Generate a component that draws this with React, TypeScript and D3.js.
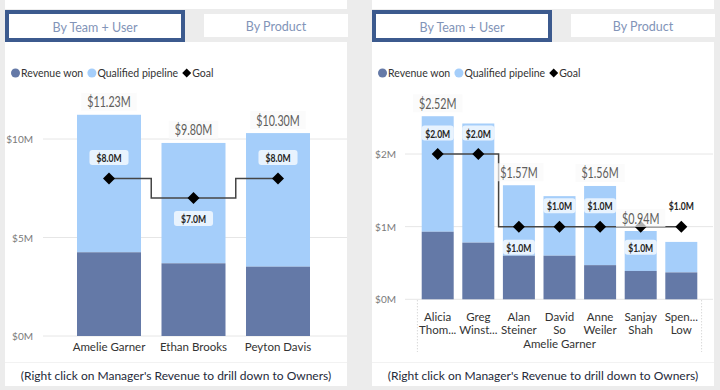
import React from "react";
import * as d3 from "d3";

// ---- Data ----
const managers = ["Amelie Garner", "Ethan Brooks", "Peyton Davis"];
const managerRevenueWon = [4.25, 3.69, 3.52];
const managerPipeline = [6.98, 6.11, 6.78];
const managerGoal = [8.0, 7.0, 8.0];
const managerTicks = [0, 5, 10];

const owners = ["Alicia Thom...", "Greg Winst...", "Alan Steiner", "David So", "Anne Weiler", "Sanjay Shah", "Spen... Low"];
const ownerGroup = "Amelie Garner";
const ownerRevenueWon = [0.93, 0.78, 0.6, 0.6, 0.47, 0.39, 0.37];
const ownerPipeline = [1.59, 1.64, 0.97, 0.82, 1.09, 0.55, 0.42];
const ownerGoal = [2.0, 2.0, 1.0, 1.0, 1.0, 1.0, 1.0];
const ownerTicks = [0, 1, 2];

const tabLabels = ["By Team + User", "By Product"];
const legendLabels = ["Revenue won", "Qualified pipeline", "Goal"];
const footerText = "(Right click on Manager's Revenue to drill down to Owners)";

// label visibility / placement (as Power BI resolved overlaps)
const managerHiddenTotals: string[] = [];
const managerGoalBelow = ["Ethan Brooks"];
const ownerHiddenTotals = ["Greg Winst...", "David So", "Spen... Low"];
const ownerGoalBelow = ["Alan Steiner", "Sanjay Shah"];

const FONT = "Lato, 'Open Sans', sans-serif";
const DARK = "#6479a7";
const LIGHT = "#a5cefa";
const PAGE_BG = "#ececec";

function textWidth(s: string, size: number, weight = "normal") {
  if (typeof document === "undefined") return s.length * size * 0.5;
  const c = (textWidth as any).c || ((textWidth as any).c = document.createElement("canvas"));
  const ctx = c.getContext("2d");
  ctx.font = `${weight} ${size}px Lato`;
  return ctx.measureText(s).width;
}

// condensed label (data labels in reference use a narrow face)
function Narrow(props: { x: number; y: number; size: number; weight?: string; fill: string; squeeze: number; children: string }) {
  const w = textWidth(props.children, props.size, props.weight || "normal") * props.squeeze;
  return (
    <text
      x={props.x}
      y={props.y}
      textAnchor="middle"
      dominantBaseline="central"
      fontSize={props.size}
      fontWeight={props.weight || "normal"}
      fill={props.fill}
      textLength={w}
      lengthAdjust="spacingAndGlyphs"
    >
      {props.children}
    </text>
  );
}

type PanelProps = {
  ox: number;
  cats: string[];
  won: number[];
  pipe: number[];
  goal: number[];
  ticks: number[];
  yDomain: [number, number];
  yRange: [number, number];
  xRange: [number, number];
  pad: number;
  gridX: [number, number];
  tickX: number;
  hiddenTotals: string[];
  goalBelow: string[];
  diamond: number;
  twoLine: boolean;
  group?: string;
};

function Panel(p: PanelProps) {
  const x = d3.scaleBand<string>().domain(p.cats).range(p.xRange).padding(p.pad);
  const y = d3.scaleLinear().domain(p.yDomain).range(p.yRange);
  const bw = x.bandwidth();
  const step = x.step();
  const cx = (c: string) => (x(c) as number) + bw / 2;
  const totals = p.won.map((w, i) => w + p.pipe[i]);
  const fmt = (v: number) => `$${v.toFixed(2)}M`;
  const fmtGoal = (v: number) => `$${v.toFixed(1)}M`;

  const stepLine = d3
    .line<number>()
    .x((_, i) => cx(p.cats[i]))
    .y((d) => y(d))
    .curve(d3.curveStep);

  const tabW1 = 180;
  const left = p.ox + 5;
  const right = p.ox + 347;
  const centerX = (left + right) / 2;
  const y0 = y(0);

  // legend layout
  const LF = 10.5;
  const legendColors = [DARK, LIGHT, "#000"];
  let lx = p.ox + 11;
  const legendItems = legendLabels.map((lab, i) => {
    const item = { lab, i, mx: lx + 4.5, tx: lx + 10 };
    lx = lx + 10 + textWidth(lab, LF) + 4;
    return item;
  });

  return (
    <g fontFamily={FONT}>
      {/* panel */}
      <rect x={left} y={0} width={right - left} height={386} fill="#ffffff" />
      <rect x={left} y={9} width={right - left} height={33} fill={PAGE_BG} />
      {/* tabs */}
      <rect x={left + 2} y={12} width={tabW1 - 4} height={28} fill="#fff" stroke="#3c5a8e" strokeWidth={4} />
      <text x={left + tabW1 / 2} y={27} textAnchor="middle" dominantBaseline="central" fontSize={12.5} fill="#8294b8">
        {tabLabels[0]}
      </text>
      <rect x={p.ox + 204} y={14} width={144} height={23} fill="#fff" />
      <text x={p.ox + 276} y={26} textAnchor="middle" dominantBaseline="central" fontSize={12.5} fill="#8294b8">
        {tabLabels[1]}
      </text>

      {/* legend */}
      <g fontSize={LF} fill="#333">
        {legendItems.map((it) => (
          <g key={it.lab}>
            {it.i < 2 ? (
              <circle cx={it.mx} cy={73} r={4.5} fill={legendColors[it.i]} />
            ) : (
              <path d={`M${it.mx},${68.5} l4.5,4.5 l-4.5,4.5 l-4.5,-4.5z`} fill="#000" />
            )}
            <text x={it.tx} y={73} dominantBaseline="central">{it.lab}</text>
          </g>
        ))}
      </g>

      {/* grid + y ticks */}
      {p.ticks.map((t) => (
        <g key={t}>
          <line x1={p.gridX[0]} x2={p.gridX[1]} y1={y(t)} y2={y(t)} stroke="#e6e6e6" strokeWidth={1} />
          <text x={p.tickX} y={y(t)} textAnchor="end" dominantBaseline="central" fontSize={10} fill="#7a7a7a">
            {`$${t}M`}
          </text>
        </g>
      ))}

      {/* bars */}
      {p.cats.map((c, i) => (
        <g key={c}>
          <rect x={x(c)} y={y(totals[i])} width={bw} height={y(p.won[i]) - y(totals[i])} fill={LIGHT} />
          <rect x={x(c)} y={y(p.won[i])} width={bw} height={y0 - y(p.won[i])} fill={DARK} />
        </g>
      ))}

      {/* goal step line */}
      <path d={stepLine(p.goal) || ""} fill="none" stroke="#454545" strokeWidth={1.5} />
      {p.cats.map((c, i) => {
        const s = p.diamond;
        return (
          <path
            key={c}
            d={`M${cx(c)},${y(p.goal[i]) - s} l${s},${s} l${-s},${s} l${-s},${-s}z`}
            fill="#000"
          />
        );
      })}

      {/* goal labels */}
      {p.cats.map((c, i) => {
        const below = p.goalBelow.includes(c);
        const ly = y(p.goal[i]) + (below ? 20.5 : -21);
        const label = fmtGoal(p.goal[i]);
        const w = Math.min(textWidth(label, 11, "bold") * 0.78 + 14, bw);
        return (
          <g key={c}>
            <rect x={cx(c) - w / 2} y={ly - 7.5} width={w} height={15} rx={3} fill="#ffffff" fillOpacity={0.75} />
            <Narrow x={cx(c)} y={ly} size={11} weight="bold" fill="#252423" squeeze={0.78}>
              {label}
            </Narrow>
          </g>
        );
      })}

      {/* total labels */}
      {p.cats.map((c, i) => {
        if (p.hiddenTotals.includes(c)) return null;
        const ly = y(totals[i]) - 13;
        const label = fmt(totals[i]);
        const w = textWidth(label, 14.5) * 0.74 + 12;
        return (
          <g key={c}>
            <rect x={cx(c) - w / 2} y={ly - 9} width={w} height={18} fill="#fafafa" fillOpacity={0.7} />
            <Narrow x={cx(c)} y={ly} size={14.5} fill="#605e5c" squeeze={0.74}>
              {label}
            </Narrow>
          </g>
        );
      })}

      {/* x axis labels */}
      {p.twoLine ? (
        <g fontSize={11.5} fill="#333">
          {p.cats.map((c) => {
            const idx = c.indexOf(" ");
            const a = c.slice(0, idx);
            const b = c.slice(idx + 1);
            return (
              <g key={c}>
                <text x={cx(c)} y={316.5} textAnchor="middle" dominantBaseline="central">{a}</text>
                <text x={cx(c)} y={329.5} textAnchor="middle" dominantBaseline="central">{b}</text>
              </g>
            );
          })}
          <text x={(p.xRange[0] + p.xRange[1]) / 2} y={343.5} textAnchor="middle" dominantBaseline="central">
            {p.group}
          </text>
          {[(x(p.cats[0]) as number) - (step - bw) / 2, (x(p.cats[p.cats.length - 1]) as number) + bw + (step - bw) / 2].map((vx, k) => (
            <line key={k} x1={vx} x2={vx} y1={y0 + 1} y2={352} stroke="#c8c8c8" strokeDasharray="1,2" />
          ))}
        </g>
      ) : (
        <g fontSize={11.5} fill="#333">
          {p.cats.map((c) => (
            <text key={c} x={cx(c)} y={346} textAnchor="middle" dominantBaseline="central">{c}</text>
          ))}
        </g>
      )}

      {/* footer */}
      <rect x={left} y={362} width={right - left} height={1} fill="#f2f2f2" />
      <text x={centerX} y={375} textAnchor="middle" dominantBaseline="central" fontSize={12} fill="#252a3a">
        {footerText}
      </text>
    </g>
  );
}

export default function App() {
  return (
    <svg width={720} height={390} style={{ position: "fixed", left: 0, top: 0, display: "block" }}>
      <rect x={0} y={0} width={720} height={390} fill={PAGE_BG} />
      <Panel
        ox={0}
        cats={managers}
        won={managerRevenueWon}
        pipe={managerPipeline}
        goal={managerGoal}
        ticks={managerTicks}
        yDomain={[0, 10]}
        yRange={[336, 139]}
        xRange={[56.5, 330.5]}
        pad={0.2426}
        gridX={[43, 347]}
        tickX={33}
        hiddenTotals={managerHiddenTotals}
        goalBelow={managerGoalBelow}
        diamond={6}
        twoLine={false}
      />
      <Panel
        ox={367}
        cats={owners}
        won={ownerRevenueWon}
        pipe={ownerPipeline}
        goal={ownerGoal}
        ticks={ownerTicks}
        yDomain={[0, 2]}
        yRange={[299.3, 154]}
        xRange={[413.1, 705.9]}
        pad={0.212}
        gridX={[405, 713]}
        tickX={396}
        hiddenTotals={ownerHiddenTotals}
        goalBelow={ownerGoalBelow}
        diamond={6}
        twoLine={true}
        group={ownerGroup}
      />
    </svg>
  );
}
